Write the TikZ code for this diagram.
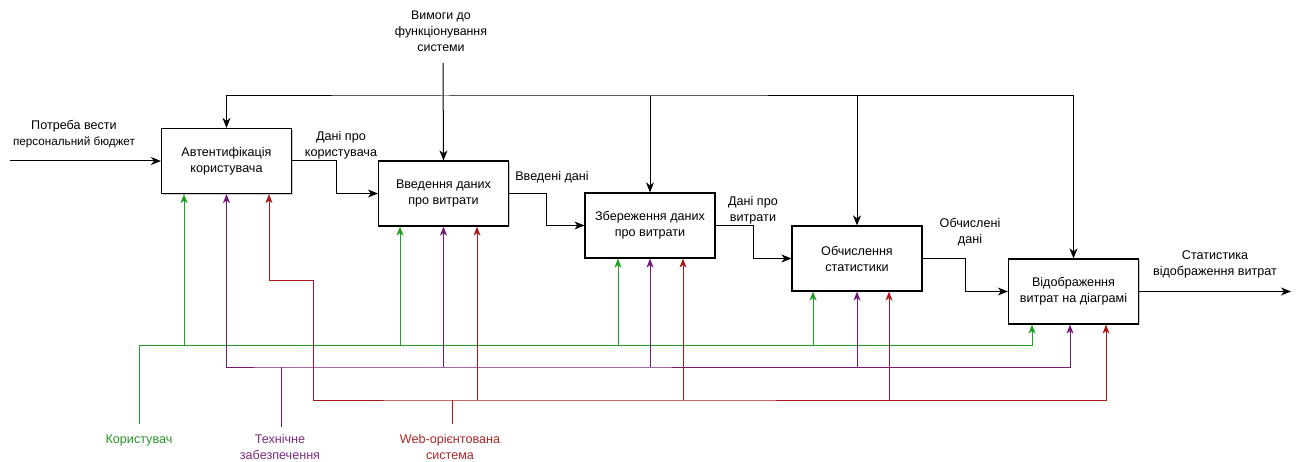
\documentclass[tikz,border=0pt]{standalone}
\usepackage{fontspec}
\setmainfont{Liberation Sans}
\usetikzlibrary{arrows.meta,shadows}

\definecolor{usergreen}{RGB}{30,160,30}
\definecolor{techpurple}{RGB}{115,25,115}
\definecolor{webred}{RGB}{170,25,25}
\definecolor{usertext}{RGB}{40,150,40}
\definecolor{techtext}{RGB}{125,45,125}
\definecolor{webtext}{RGB}{170,40,40}

\tikzset{
  proc/.style={draw, line width=1.2pt, fill=white, minimum width=130pt,
    minimum height=65pt, align=center, inner sep=0pt,
    font=\fontsize{12.6}{16}\selectfont,
    drop shadow={shadow xshift=1.2pt, shadow yshift=-1.2pt, fill=black!40}},
  lbl/.style={align=center, inner sep=0pt, font=\fontsize{12.6}{16}\selectfont},
  slbl/.style={align=center, inner sep=0pt, font=\fontsize{12.4}{16}\selectfont},
  flow/.style={line width=1pt, -{Stealth[length=10pt,width=8pt,inset=3pt]}},
  ctrl/.style={line width=1pt, {Stealth[length=10pt,width=8pt,inset=3pt]}-{Stealth[length=10pt,width=8pt,inset=3pt]}},
  ctrlbranch/.style={line width=1pt, -{Stealth[length=10pt,width=8pt,inset=3pt]}},
  mech/.style={line width=1pt, -{Stealth[length=9pt,width=7pt,inset=2.5pt]}},
  mechboth/.style={line width=1pt, {Stealth[length=9pt,width=7pt,inset=2.5pt]}-{Stealth[length=9pt,width=7pt,inset=2.5pt]}},
  plain/.style={line width=1pt}
}

\begin{document}
\begin{tikzpicture}[x=1pt,y=-1pt]
\useasboundingbox (0,0) rectangle (1297,462);

% process boxes
\node[proc] (A1) at (226.5,161)   {Автентифікація\\користувача};
\node[proc] (A2) at (443.5,193.5) {Введення даних\\про витрати};
\node[proc] (A3) at (650,225.5)   {Збереження даних\\про витрати};
\node[proc] (A4) at (857,258.5)   {Обчислення\\статистики};
\node[proc] (A5) at (1073.5,291.5) {Відображення\\витрат на діаграмі};

% input and output
\coordinate (in) at (10,161);
\coordinate (out) at (1291,291.5);
\node[lbl] (inlbl) at (74,134) {Потреба вести\\{\fontsize{11.7}{16}\selectfont персональний бюджет}};
\draw[flow] (in) -- (A1.west);
\draw[flow] (A5.east) -- (out);
\node[lbl] (outlbl) at (1215,264) {Статистика\\відображення витрат};

% flows between processes
\draw[flow] (A1.east) -- ++(44,0) |- (A2.west);
\draw[flow] (A2.east) -- ++(37,0) |- (A3.west);
\draw[flow] (A3.east) -- ++(38,0) |- (A4.west);
\draw[flow] (A4.east) -- ++(43,0) |- (A5.west);
\node[lbl] (f12) at (341,145) {Дані про\\користувача};
\node[lbl] (f23) at (552,177) {Введені дані};
\node[lbl] (f34) at (753,210) {Дані про\\витрати};
\node[lbl] (f45) at (970,232) {Обчислені\\дані};

% control: requirements
\node[slbl] (req) at (441,31) {Вимоги до\\функціонування\\системи};
\coordinate (reqEnd) at (443,63);
\coordinate (cbus) at (443,96);
\draw[ctrlbranch] (reqEnd) -- (A2.north);
\draw[ctrl] (A1.north) |- (cbus) -| (A5.north);
\draw[ctrlbranch] (A3.north |- cbus) -- (A3.north);
\draw[ctrlbranch] (A4.north |- cbus) -- (A4.north);

% mechanism ports on the box bottoms
\coordinate (g1) at ([xshift=-42.5pt]A1.south);
\coordinate (p1) at (A1.south);
\coordinate (r1) at ([xshift=42.5pt]A1.south);
\coordinate (g2) at ([xshift=-43.5pt]A2.south);
\coordinate (p2) at (A2.south);
\coordinate (r2) at ([xshift=33.5pt]A2.south);
\coordinate (g3) at ([xshift=-32pt]A3.south);
\coordinate (p3) at (A3.south);
\coordinate (r3) at ([xshift=33pt]A3.south);
\coordinate (g4) at ([xshift=-44pt]A4.south);
\coordinate (p4) at (A4.south);
\coordinate (r4) at ([xshift=32pt]A4.south);
\coordinate (g5) at ([xshift=-41.5pt]A5.south);
\coordinate (p5) at ([xshift=-3.5pt]A5.south);
\coordinate (r5) at ([xshift=32.5pt]A5.south);

% mechanism: user
\node[lbl, text=usertext] (user) at (139,440) {Користувач};
\coordinate (uEnd) at (139,424);
\coordinate (gbus) at (139,345);
\draw[mech, usergreen] (uEnd) -- (gbus) -| (g5);
\foreach \p in {g1,g2,g3,g4}
  \draw[mech, usergreen] (\p |- gbus) -- (\p);

% mechanism: hardware
\node[lbl, text=techtext] (tech) at (280,447) {Технічне\\забезпечення};
\coordinate (tEnd) at (281,427);
\coordinate (pbus) at (281,367);
\draw[plain, techpurple] (tEnd) -- (pbus);
\draw[mechboth, techpurple] (p1) |- (pbus) -| (p5);
\foreach \p in {p2,p3,p4}
  \draw[mech, techpurple] (\p |- pbus) -- (\p);

% mechanism: web system
\node[lbl, text=webtext] (web) at (450,447) {Web-орієнтована\\система};
\coordinate (wEnd) at (452,424);
\coordinate (rbus) at (452,400);
\coordinate (rjog) at (313,280);
\draw[plain, webred] (wEnd) -- (rbus);
\draw[mechboth, webred] (r1) |- (rjog) |- (rbus) -| (r5);
\foreach \p in {r2,r3,r4}
  \draw[mech, webred] (\p |- rbus) -- (\p);
\end{tikzpicture}
\end{document}
